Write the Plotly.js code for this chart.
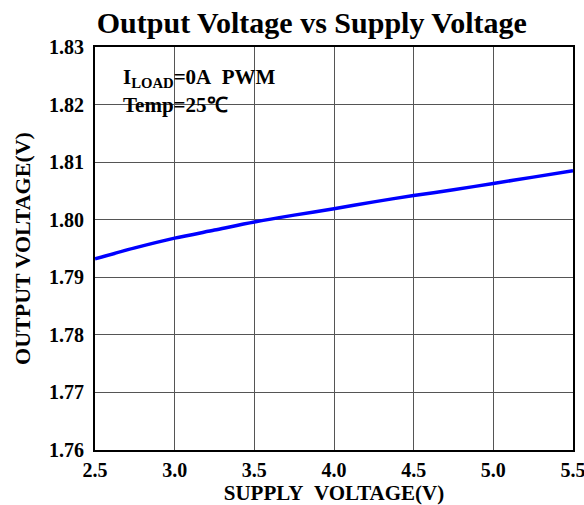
<!DOCTYPE html>
<html>
<head>
<meta charset="utf-8">
<script src="https://cdn.plot.ly/plotly-3.0.1.min.js"></script>
<style>html,body{margin:0;padding:0;background:#fff;}#chart{width:584px;height:505px;}</style>
</head>
<body>
<div id="chart"></div>
<script>
var supplyVoltage = [2.5, 2.75, 3.0, 3.25, 3.5, 3.75, 4.0, 4.25, 4.5, 4.75, 5.0, 5.25, 5.5];
var outputVoltage = [1.7932, 1.7951, 1.7968, 1.7982, 1.7996, 1.8008, 1.8019, 1.8031, 1.8042, 1.8052, 1.8063, 1.8074, 1.8085];
var xTickVals = [2.5, 3.0, 3.5, 4.0, 4.5, 5.0, 5.5];
var xTickText = ['2.5', '3.0', '3.5', '4.0', '4.5', '5.0', '5.5'];
var yTickVals = [1.76, 1.77, 1.78, 1.79, 1.80, 1.81, 1.82, 1.83];
var yTickText = ['1.76', '1.77', '1.78', '1.79', '1.80', '1.81', '1.82', '1.83'];

var serif = '"Liberation Serif", "Times New Roman", serif';

var trace = {
  x: supplyVoltage,
  y: outputVoltage,
  type: 'scatter',
  mode: 'lines',
  line: {color: '#0000ff', width: 3.5, shape: 'spline', smoothing: 0.8},
  hoverinfo: 'none'
};

var layout = {
  width: 584,
  height: 505,
  margin: {l: 95, r: 11, t: 47, b: 55},
  paper_bgcolor: '#ffffff',
  plot_bgcolor: '#ffffff',
  showlegend: false,
  title: {
    text: '<b>Output Voltage vs Supply Voltage</b>',
    font: {family: serif, size: 30, color: '#000'},
    xref: 'container', x: 0.534, xanchor: 'center',
    yref: 'container', y: 0.955, yanchor: 'middle'
  },
  xaxis: {
    range: [2.5, 5.5],
    tickvals: xTickVals,
    ticktext: xTickText,
    tickfont: {family: serif, size: 20, color: '#000', weight: 'bold'},
    ticklabeloverflow: 'allow',
    showgrid: true, gridcolor: '#555', gridwidth: 1,
    zeroline: false,
    showline: true, linecolor: '#000', linewidth: 2, mirror: true,
    ticks: '',
    ticklabelstandoff: 1,
    title: {text: '<b>SUPPLY&nbsp;&nbsp;VOLTAGE(V)</b>', font: {family: serif, size: 21, color: '#000'}, standoff: 2}
  },
  yaxis: {
    range: [1.76, 1.83],
    tickvals: yTickVals,
    ticktext: yTickText,
    tickfont: {family: serif, size: 20, color: '#000', weight: 'bold'},
    showgrid: true, gridcolor: '#555', gridwidth: 1,
    zeroline: false,
    showline: true, linecolor: '#000', linewidth: 2, mirror: true,
    ticks: '',
    ticklabelstandoff: 5,
    title: {text: '<b>OUTPUT VOLTAGE(V)</b>', font: {family: serif, size: 22, color: '#000'}, standoff: 12}
  },
  annotations: [
    {
      xref: 'paper', yref: 'paper', x: 0.05, y: 0.856, xanchor: 'left', yanchor: 'middle',
      text: '<b>Temp=25℃</b>',
      showarrow: false, bgcolor: 'rgba(255,255,255,0)', borderpad: 3,
      font: {family: serif, size: 21, color: '#000'}
    },
    {
      xref: 'paper', yref: 'paper', x: 0.05, y: 0.922, xanchor: 'left', yanchor: 'middle',
      text: '<b>I<sub>LOAD</sub>=0A&nbsp;&nbsp;PWM</b>',
      showarrow: false, bgcolor: 'rgba(255,255,255,0)', borderpad: 3,
      font: {family: serif, size: 21, color: '#000'}
    }
  ],
  shapes: [
    {
      type: 'rect', xref: 'paper', yref: 'paper', layer: 'below',
      x0: 0.048, x1: 0.401, y0: 0.83, y1: 0.95,
      fillcolor: '#ffffff', line: {width: 0}
    }
  ]
};

Plotly.newPlot('chart', [trace], layout, {staticPlot: true, displayModeBar: false});
</script>
</body>
</html>
